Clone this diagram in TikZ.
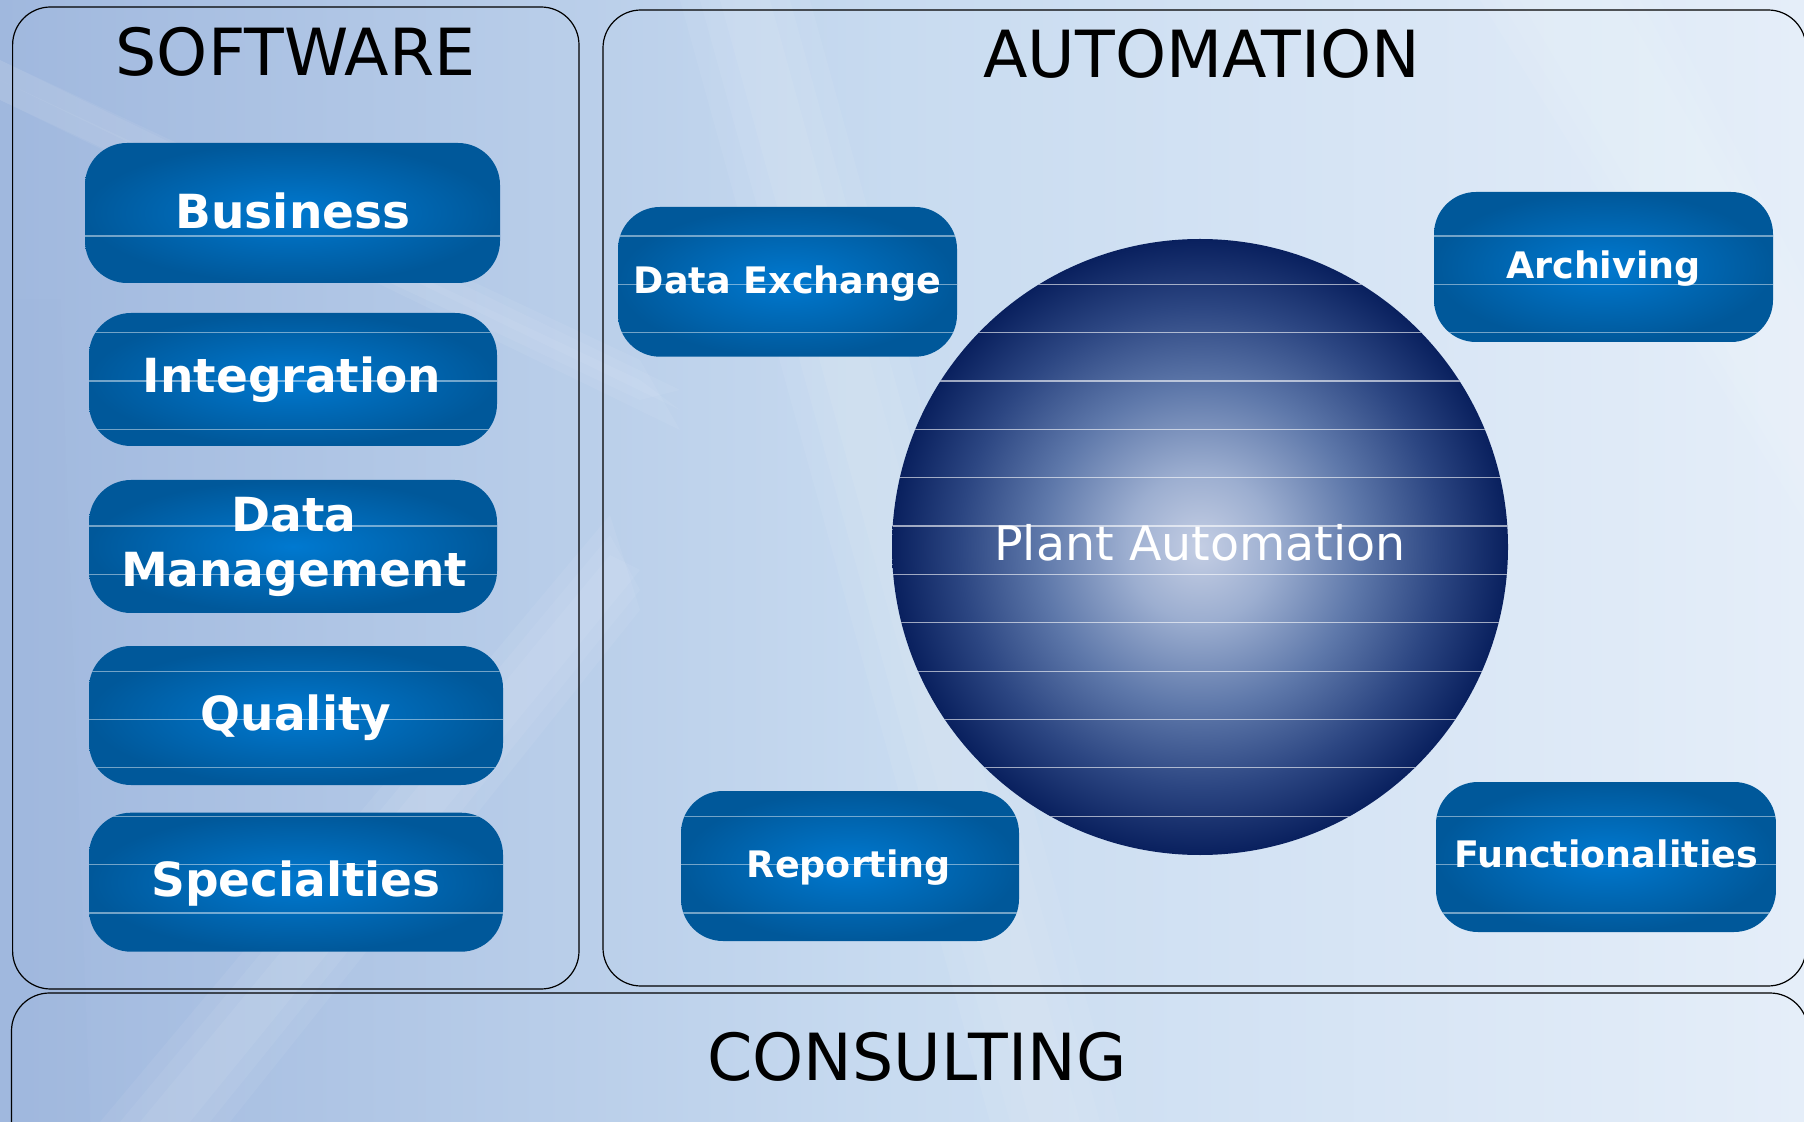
\documentclass[tikz,border=0pt]{standalone}
\usepackage{fontspec}
\setmainfont{DejaVu Sans}
\usetikzlibrary{calc}
\definecolor{bgL}{RGB}{160,184,222}
\definecolor{bgM}{RGB}{200,219,240}
\definecolor{bgR}{RGB}{229,238,249}
\definecolor{boxin}{RGB}{0,121,208}
\definecolor{boxout}{RGB}{0,88,154}
\definecolor{ballA}{RGB}{196,206,228}
\definecolor{ballB}{RGB}{156,174,208}
\definecolor{ballC}{RGB}{94,120,170}
\definecolor{ballD}{RGB}{44,70,130}
\definecolor{ballE}{RGB}{9,32,94}
\pgfdeclareradialshading{plantball}{\pgfpoint{0bp}{0bp}}{color(0bp)=(ballA); color(6bp)=(ballB); color(13bp)=(ballC); color(19.5bp)=(ballD); color(25bp)=(ballE); color(50bp)=(ballE)}
\newcommand\boxstripes[1]{%
  \begin{scope}
    \clip[rounded corners=21pt] (#1.south west) rectangle (#1.north east);
    \foreach \k in {0,...,14}{
      \pgfmathsetmacro\yy{236+48.35*\k}
      \draw[stripe] (#1.west |- 0,\yy) -- (#1.east |- 0,\yy);
    }
  \end{scope}}
\begin{document}
\begin{tikzpicture}[x=0.5pt,y=-0.5pt,
  panel/.style={draw=black, line width=0.6pt, rounded corners=19pt},
  bluebox/.style={rectangle, rounded corners=21pt, inner sep=0pt, outer sep=0pt, shade, inner color=boxin, outer color=boxout},
  stripe/.style={draw=white, draw opacity=0.45, line width=0.6pt},
  biglbl/.style={text=white, anchor=base, inner sep=0pt, font=\bfseries\fontsize{23.5}{28}\selectfont},
  smalllbl/.style={text=white, anchor=base, inner sep=0pt, font=\bfseries\fontsize{18.25}{22}\selectfont},
  title/.style={text=black, anchor=base, inner sep=0pt, font=\fontsize{32.5}{38}\selectfont},
  streak/.style={fill=white, opacity=0.06}]
\useasboundingbox (0,0) rectangle (1804,1122);
% background
\shade[left color=bgL, right color=bgR, middle color=bgM] (0,0) rectangle (1804,1122);
\foreach \w in {0,20,40}{
  \fill[streak] (0,60+\w) -- (0,100-\w) -- (640,400-\w) -- (680,390+\w) -- cycle;
  \fill[streak] (140-\w,1122) -- (190+\w,1122) -- (640,570+\w) -- (610,555-\w) -- cycle;
  \fill[streak] (720-\w,0) -- (770+\w,0) -- (1080+\w,1122) -- (1030-\w,1122) -- cycle;
  \fill[streak] (1520-\w,0) -- (1620+\w,0) -- (1804,320-\w) -- (1804,480+\w) -- cycle;
}
\fill[bgL, opacity=0.25] (0,300) -- (0,1122) -- (90,1122) -- (60,300) -- cycle;
% panels
\draw[panel] (12.6,7) rectangle (579,989);
\draw[panel] (603,10) rectangle (1806,986);
\draw[panel] (11.5,993) rectangle (1808,1170);
% titles
\node[title] (tsoft) at (295.6,76) {SOFTWARE};
\node[title] (tauto) at (1202,78) {AUTOMATION};
\node[title] (tcons) at (917,1080) {CONSULTING};
% central sphere
\node[circle, inner sep=0pt, minimum size=308pt, shade, shading=plantball] (plant) at (1200,547) {};
\begin{scope}
  \clip (plant.center) circle[radius=154pt];
  \foreach \k in {0,...,14}{
    \pgfmathsetmacro\yy{236+48.35*\k}
    \draw[stripe, draw opacity=0.6] (plant.west |- 0,\yy) -- (plant.east |- 0,\yy);
  }
\end{scope}
\node[text=white, anchor=base, inner sep=0pt, font=\fontsize{23.75}{28}\selectfont] (tplant) at (1200,560.7) {Plant Automation};
% software boxes
\node[bluebox, minimum width=207.5pt, minimum height=70pt] (business) at (292.5,213) {};
\node[bluebox, minimum width=204pt, minimum height=66.5pt] (integration) at (293,379.5) {};
\node[bluebox, minimum width=204pt, minimum height=66.5pt] (datamgmt) at (293,546.5) {};
\node[bluebox, minimum width=207pt, minimum height=69.5pt] (quality) at (296,715.5) {};
\node[bluebox, minimum width=207pt, minimum height=69.5pt] (special) at (296,882.2) {};
% automation boxes
\node[bluebox, minimum width=169.5pt, minimum height=74.85pt] (dataex) at (787.5,281.85) {};
\node[bluebox, minimum width=169.5pt, minimum height=75pt] (archiv) at (1603.5,267) {};
\node[bluebox, minimum width=169pt, minimum height=75pt] (report) at (850,866) {};
\node[bluebox, minimum width=170pt, minimum height=75pt] (funct) at (1606,857) {};
\foreach \b in {business,integration,datamgmt,quality,special,dataex,archiv,report,funct}{\boxstripes{\b}}
% labels
\node[biglbl] (lbusiness) at (293,228.3) {Business};
\node[biglbl] (lintegration) at (292,393) {Integration};
\node[biglbl] (ldata) at (294,532) {Data};
\node[biglbl] (lmgmt) at (294,587) {Management};
\node[biglbl] (lquality) at (296,730) {Quality};
\node[biglbl] (lspecial) at (296,896.7) {Specialties};
\node[smalllbl] (ldataex) at (787.5,293.3) {Data Exchange};
\node[smalllbl] (larchiv) at (1603.5,279) {Archiving};
\node[smalllbl] (lreport) at (849,877.7) {Reporting};
\node[smalllbl] (lfunct) at (1606,867.7) {Functionalities};
\end{tikzpicture}
\end{document}
